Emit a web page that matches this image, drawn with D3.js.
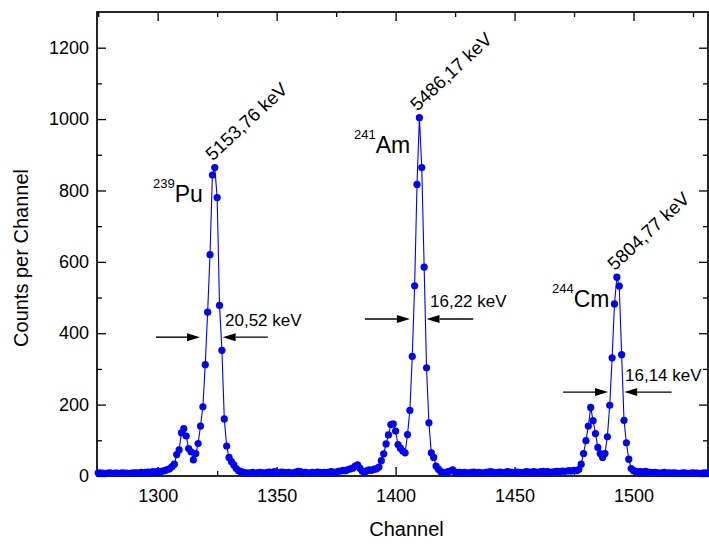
<!DOCTYPE html>
<html>
<head>
<meta charset="utf-8">
<script src="https://cdn.jsdelivr.net/npm/d3@7"></script>
<style>
  body { margin: 0; background: #fff; }
  svg { display: block; font-family: "Liberation Sans", Arial, sans-serif; }
</style>
</head>
<body>
<svg id="chart"></svg>
<script>
// channel range of the spectrum
const firstChannel = 1275;
const lastChannel = 1531;

// counts per channel, 1275 .. 1531 (10 per row)
const counts = [
  9, 8, 8, 7, 8, 9, 7, 8, 8, 7,            // 1275
  9, 8, 8, 7, 8, 9, 9, 8, 10, 9,           // 1285
  10, 11, 10, 12, 11, 13, 12, 14, 15, 18,  // 1295
  20, 26, 33, 60, 73, 121, 133, 112, 77, 68, // 1305
  45, 63, 91, 140, 194, 312, 459, 620, 843, 864, // 1315
  780, 478, 352, 160, 84, 52, 40, 31, 21, 15, // 1325
  12, 10, 9, 8, 9, 10, 8, 9, 10, 9,        // 1335
  8, 10, 11, 9, 12, 10, 9, 11, 10, 9,      // 1345
  10, 8, 9, 11, 13, 12, 9, 10, 9, 8,       // 1355
  10, 9, 11, 10, 9, 10, 9, 11, 12, 10,     // 1365
  11, 13, 14, 16, 15, 18, 20, 22, 28, 31,  // 1375
  22, 13, 10, 15, 17, 16, 19, 20, 25, 43,  // 1385
  62, 90, 115, 144, 146, 126, 88, 78, 70, 65, // 1395
  116, 184, 335, 533, 817, 1004, 864, 585, 303, 149, // 1405
  65, 52, 28, 19, 12, 10, 8, 12, 14, 17,   // 1415
  11, 9, 10, 9, 10, 8, 9, 10, 11, 9,       // 1425
  10, 9, 8, 10, 11, 12, 10, 9, 10, 11,     // 1435
  9, 10, 12, 11, 10, 9, 11, 10, 9, 10,     // 1445
  12, 11, 10, 12, 11, 10, 12, 13, 11, 12,  // 1455
  10, 11, 12, 13, 12, 14, 13, 14, 15, 14,  // 1465
  16, 15, 18, 33, 63, 99, 140, 192, 155, 119, // 1475
  80, 63, 52, 63, 110, 198, 331, 482, 557, 532, // 1485
  340, 156, 93, 47, 21, 15, 13, 11, 12, 10, // 1495
  13, 11, 10, 9, 10, 9, 8, 9, 10, 8,       // 1505
  9, 8, 9, 8, 7, 8, 9, 8, 7, 8,            // 1515
  9, 8, 8, 7, 8, 9, 8                      // 1525
];

const xTicks = [1300, 1350, 1400, 1450, 1500];
const yTicks = [0, 200, 400, 600, 800, 1000, 1200];

// peak annotations
const peakChannels = [1324, 1410, 1493];
const peakEnergies = ["5153,76 keV", "5486,17 keV", "5804,77 keV"];
const isotopeMass = ["239", "241", "244"];
const isotopeName = ["Pu", "Am", "Cm"];
const fwhmLabels = ["20,52 keV", "16,22 keV", "16,14 keV"];

const width = 709;
const height = 544;
const margin = { top: 12, right: 1, bottom: 68, left: 97 };

const svg = d3.select("#chart").attr("width", width).attr("height", height);
svg.append("rect").attr("width", width).attr("height", height).attr("fill", "#fff");

const data = d3.range(firstChannel, lastChannel + 1).map((c, i) => ({ ch: c, v: counts[i] }));

const x = d3.scaleLinear()
  .domain([1274.5, 1531.3])
  .range([margin.left, width - margin.right]);
const y = d3.scaleLinear()
  .domain([0, 1300])
  .range([height - margin.bottom, margin.top]);

const x0 = x.range()[0], x1 = x.range()[1];
const y0 = y.range()[0], y1 = y.range()[1];

// minor ticks
const xMinor = d3.range(1275, 1531, 25).filter((d) => !xTicks.includes(d));
const yMinor = d3.range(100, 1300, 200);

function styleAxis(g) {
  g.select(".domain").remove();
  g.selectAll(".tick line").attr("stroke", "#000").attr("stroke-width", 1.3);
  g.selectAll(".tick text").attr("fill", "#000").style("font-size", "18px");
}

// bottom
svg.append("g").attr("transform", `translate(0,${y0})`)
  .call(d3.axisBottom(x).tickValues(xTicks).tickSize(-9).tickPadding(13).tickFormat(d3.format("d")))
  .call(styleAxis);
svg.append("g").attr("transform", `translate(0,${y0})`)
  .call(d3.axisBottom(x).tickValues(xMinor).tickSize(-5).tickFormat(""))
  .call(styleAxis);
// top
svg.append("g").attr("transform", `translate(0,${y1})`)
  .call(d3.axisTop(x).tickValues(xTicks).tickSize(-9).tickFormat(""))
  .call(styleAxis);
svg.append("g").attr("transform", `translate(0,${y1})`)
  .call(d3.axisTop(x).tickValues(xMinor).tickSize(-5).tickFormat(""))
  .call(styleAxis);
// left
svg.append("g").attr("transform", `translate(${x0},0)`)
  .call(d3.axisLeft(y).tickValues(yTicks).tickSize(-9).tickPadding(8).tickFormat(d3.format("d")))
  .call(styleAxis);
svg.append("g").attr("transform", `translate(${x0},0)`)
  .call(d3.axisLeft(y).tickValues(yMinor).tickSize(-5).tickFormat(""))
  .call(styleAxis);
// right
svg.append("g").attr("transform", `translate(${x1},0)`)
  .call(d3.axisRight(y).tickValues(yTicks).tickSize(-9).tickFormat(""))
  .call(styleAxis);
svg.append("g").attr("transform", `translate(${x1},0)`)
  .call(d3.axisRight(y).tickValues(yMinor).tickSize(-5).tickFormat(""))
  .call(styleAxis);

// frame
svg.append("rect")
  .attr("x", x0).attr("y", y1)
  .attr("width", x1 - x0).attr("height", y0 - y1)
  .attr("fill", "none").attr("stroke", "#000").attr("stroke-width", 1.7);

// spectrum
const line = d3.line().x((d) => x(d.ch)).y((d) => y(d.v));
svg.append("path").datum(data)
  .attr("d", line)
  .attr("fill", "none")
  .attr("stroke", "#0000ff")
  .attr("stroke-width", 1.1);

svg.append("g").selectAll("circle")
  .data(data)
  .enter()
  .append("circle")
  .attr("cx", (d) => x(d.ch))
  .attr("cy", (d) => y(d.v))
  .attr("r", 3.6)
  .attr("fill", "#0000ff");

// axis titles
svg.append("text")
  .attr("transform", "translate(28,258) rotate(-90)")
  .attr("text-anchor", "middle")
  .style("font-size", "20px")
  .text("Counts per Channel");

svg.append("text")
  .attr("x", (x0 + x1) / 2 + 4)
  .attr("y", 536)
  .attr("text-anchor", "middle")
  .style("font-size", "20px")
  .text("Channel");

// peak energy labels, rotated
peakChannels.forEach((ch, i) => {
  const v = counts[ch - firstChannel];
  const px = x(ch) - 2;
  const py = y(v) - 6;
  svg.append("text")
    .attr("transform", `translate(${px},${py}) rotate(-43)`)
    .style("font-size", "18.5px")
    .text(peakEnergies[i]);
});

// isotope names with superscript mass number
const isoPos = [
  { x: 153, y: 202 },
  { x: 354, y: 153 },
  { x: 552, y: 307 }
];
isoPos.forEach((p, i) => {
  const t = svg.append("text").attr("x", p.x).attr("y", p.y);
  t.append("tspan").attr("dy", -14).style("font-size", "13px").text(isotopeMass[i]);
  t.append("tspan").attr("dy", 14).style("font-size", "23px").text(isotopeName[i]);
});

// FWHM arrows
const fwhm = [
  { y: 389, leftTail: 1299.3, leftTip: 1317.8, rightTip: 1327.3, rightTail: 1346.3, lx: 225, ly: 326 },
  { y: 440, leftTail: 1387.1, leftTip: 1406.0, rightTip: 1413.0, rightTail: 1432.6, lx: 430, ly: 307 },
  { y: 235, leftTail: 1470.4, leftTip: 1489.3, rightTip: 1496.1, rightTail: 1516.0, lx: 625, ly: 381 }
];

function arrow(xTail, xTip, yy) {
  const dir = xTip > xTail ? 1 : -1;
  const head = 13;
  svg.append("line")
    .attr("x1", xTail).attr("x2", xTip - dir * head)
    .attr("y1", yy).attr("y2", yy)
    .attr("stroke", "#000").attr("stroke-width", 1.4);
  svg.append("path")
    .attr("d", `M${xTip},${yy} L${xTip - dir * head},${yy - 4} L${xTip - dir * head},${yy + 4} Z`)
    .attr("fill", "#000");
}

fwhm.forEach((f, i) => {
  const yy = y(f.y);
  arrow(x(f.leftTail), x(f.leftTip), yy);
  arrow(x(f.rightTail), x(f.rightTip), yy);
  svg.append("text")
    .attr("x", f.lx).attr("y", f.ly)
    .style("font-size", "17px")
    .text(fwhmLabels[i]);
});
</script>
</body>
</html>
